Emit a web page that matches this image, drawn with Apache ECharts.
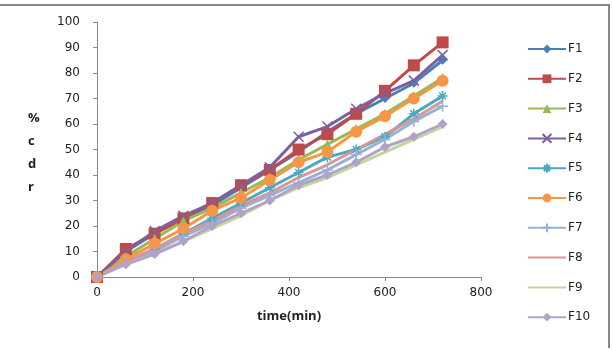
<!DOCTYPE html>
<html>
<head>
<meta charset="utf-8">
<script src="https://cdn.jsdelivr.net/npm/echarts@6/dist/echarts.min.js"></script>
<style>
  html, body { margin: 0; padding: 0; background: #fff; }
  #chart { width: 613px; height: 350px; }
</style>
</head>
<body>
<div id="chart"></div>
<script>
const times = [0, 60, 120, 180, 240, 300, 360, 420, 480, 540, 600, 660, 720]
const xTicks = [0, 200, 400, 600, 800]
const yTicks = [0, 10, 20, 30, 40, 50, 60, 70, 80, 90, 100]

const f1 = [0, 10, 17, 23, 28, 35, 42, 49, 57, 64, 70, 76, 85]
const f2 = [0, 11, 17, 23, 29, 36, 42, 50, 56, 64, 73, 83, 92]
const f3 = [0, 8, 15, 22, 27, 33, 39, 46, 52, 58, 64, 71, 78]
const f4 = [0, 10, 18, 24, 29, 36, 43, 55, 59, 66, 72, 77, 87]
const f5 = [0, 6, 11, 17, 23, 29, 35, 41, 47, 50, 55, 64, 71]
const f6 = [0, 7, 13, 19, 26, 31, 38, 45, 49, 57, 63, 70, 77]
const f7 = [0, 6, 10, 16, 21, 27, 32, 37, 42, 48, 54, 61, 67]
const f8 = [0, 6, 11, 17, 22, 28, 33, 39, 44, 50, 56, 62, 69]
const f9 = [0, 5, 9, 14, 19, 24, 30, 35, 39, 44, 49, 54, 59]
const f10 = [0, 5, 9, 14, 20, 25, 30, 36, 40, 45, 51, 55, 60]

const names = ["F1", "F2", "F3", "F4", "F5", "F6", "F7", "F8", "F9", "F10"]
const values = [f1, f2, f3, f4, f5, f6, f7, f8, f9, f10]
const colors = ["#4A7EBB", "#BE4B48", "#98B954", "#7D60A0", "#46AAC5",
  "#F79646", "#95B3D7", "#D99694", "#C3D69B", "#B3A2C7"]

const X_PATH = "path://M0,0L10,10M10,0L0,10"
const STAR_PATH = "path://M0,5L10,5M5,0L5,10M1.5,1.5L8.5,8.5M8.5,1.5L1.5,8.5"
const PLUS_PATH = "path://M5,0L5,10M0,5L10,5"
const symbols = ["diamond", "rect", "triangle", X_PATH, STAR_PATH, "circle", PLUS_PATH, "none", "none", "diamond"]
const sizes = [9, 12, 10, 10, 10, 12, 11, 0, 0, 10]

const chart = echarts.init(document.getElementById("chart"))

const series = names.map((name, i) => {
  const stroked = [3, 4, 6].includes(i)
  return {
    name,
    type: "line",
    data: times.map((t, j) => [t, values[i][j]]),
    symbol: symbols[i],
    symbolSize: sizes[i],
    showSymbol: symbols[i] !== "none",
    color: colors[i],
    lineStyle: { color: colors[i], width: 3 },
    itemStyle: stroked
      ? { color: colors[i], borderColor: colors[i], borderWidth: 1.5 }
      : { color: colors[i], borderWidth: 0 },
    animation: false,
  }
})

// F8 and F9 have no marker, so their legend keys are a plain line
const legendData = names.map((name, i) =>
  symbols[i] === "none" ? { name, itemStyle: { opacity: 0 } } : { name })

chart.setOption({
  backgroundColor: "#fff",
  animation: false,
  grid: { left: 97, right: 132, top: 22, bottom: 73 },
  xAxis: {
    type: "value",
    min: 0,
    max: 800,
    interval: 200,
    name: "time(min)",
    nameLocation: "middle",
    nameGap: 33,
    nameTextStyle: { fontFamily: "Open Sans", fontWeight: "bold", fontSize: 13, color: "#222" },
    axisLine: { lineStyle: { color: "#888" } },
    axisTick: { show: true, length: 4, inside: false, lineStyle: { color: "#888" } },
    axisLabel: { fontFamily: "DejaVu Sans", fontSize: 12, color: "#222", margin: 10,
      formatter: v => (xTicks.includes(v) ? String(v) : "") },
    splitLine: { show: false },
  },
  yAxis: {
    type: "value",
    min: 0,
    max: 100,
    interval: 10,
    axisLine: { show: true, lineStyle: { color: "#888" } },
    axisTick: { show: true, length: 4, inside: false, lineStyle: { color: "#888" } },
    axisLabel: { fontFamily: "DejaVu Sans", fontSize: 12, color: "#222", margin: 17,
      formatter: v => (yTicks.includes(v) ? String(v) : "") },
    splitLine: { show: false },
  },
  legend: {
    orient: "vertical",
    left: 522,
    top: 38,
    itemWidth: 38,
    itemHeight: 11,
    itemGap: 17.8,
    data: legendData,
    textStyle: { fontFamily: "DejaVu Sans", fontSize: 12, color: "#222", padding: [0, 0, 0, -3] },
  },
  graphic: [
    {
      type: "text",
      left: 28,
      top: 107,
      style: {
        text: "%\nc\nd\nr",
        font: "bold 13px 'Open Sans'",
        fill: "#222",
        lineHeight: 23,
        align: "center",
      },
    },
    {
      type: "polyline",
      shape: { points: [[0, 5], [609, 5], [609, 348]] },
      style: { stroke: "#888", lineWidth: 2, fill: "none" },
    },
  ],
  series,
})
</script>
</body>
</html>
